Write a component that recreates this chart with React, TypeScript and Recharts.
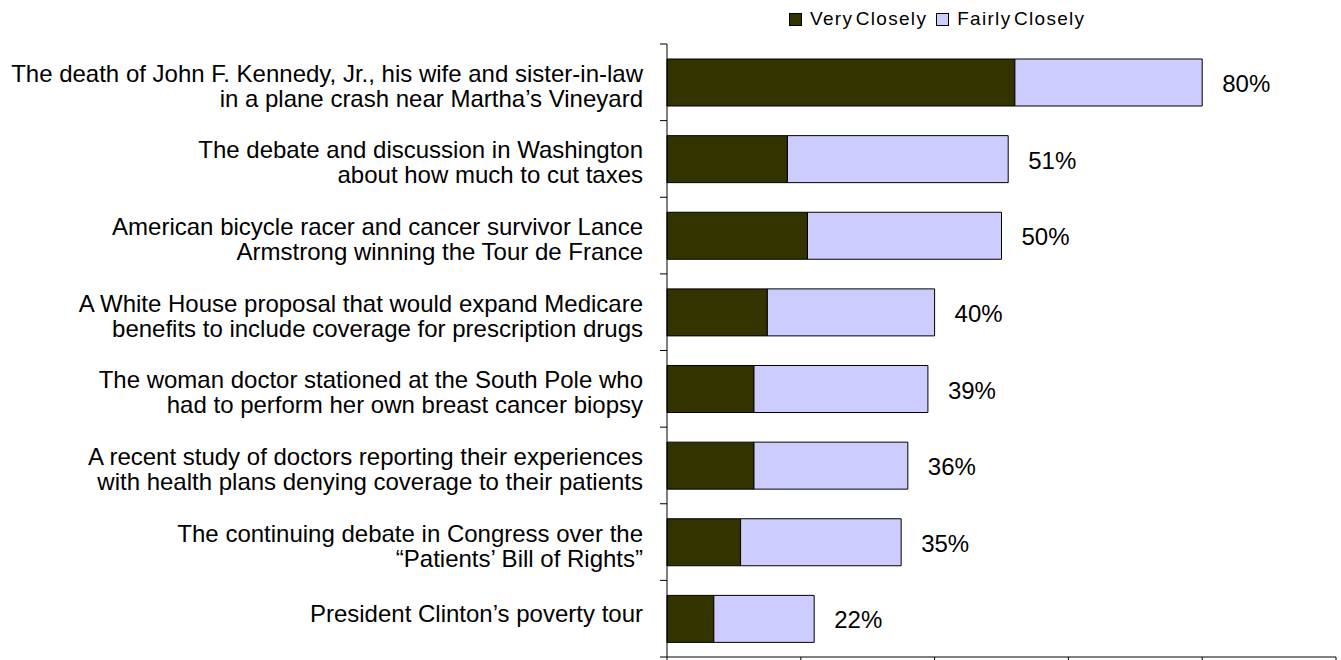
import React from 'react';
import { BarChart, Bar, XAxis, YAxis, LabelList } from 'recharts';

// Survey items, in the order they appear top to bottom
const categories = [
  'The death of John F. Kennedy, Jr., his wife and sister-in-law\nin a plane crash near Martha’s Vineyard',
  'The debate and discussion in Washington\nabout how much to cut taxes',
  'American bicycle racer and cancer survivor Lance\nArmstrong winning the Tour de France',
  'A White House proposal that would expand Medicare\nbenefits to include coverage for prescription drugs',
  'The woman doctor stationed at the South Pole who\nhad to perform her own breast cancer biopsy',
  'A recent study of doctors reporting their experiences\nwith health plans denying coverage to their patients',
  'The continuing debate in Congress over the\n“Patients’ Bill of Rights”',
  'President Clinton’s poverty tour',
];
const veryClosely = [52, 18, 21, 15, 13, 13, 11, 7];
const fairlyClosely = [28, 33, 29, 25, 26, 23, 24, 15];
const xTicks = [0, 20, 40, 60, 80, 100];

const DARK = '#333300';
const LIGHT = '#ccccff';
const FONT = '"Liberation Sans", Arial, sans-serif';
const W = 1341;
const H = 660;
const MARGIN = { top: 44, right: 5, bottom: 0, left: 0 };
const X_AXIS_H = 3;
const LABEL_GAP = 24;
const LINE_H = 25;

const data = categories.map((name, i) => ({
  name,
  very: veryClosely[i],
  fairly: fairlyClosely[i],
  total: veryClosely[i] + fairlyClosely[i],
}));

// two-line right aligned label + tick marks on the band edges
function CategoryTick(props: any) {
  const { x, y, payload, index } = props;
  const lines = String(payload.value).split('\n');
  const plotH = H - MARGIN.top - MARGIN.bottom - X_AXIS_H;
  const half = Number.isFinite(payload.offset) && payload.offset > 0 ? payload.offset : plotH / categories.length / 2;
  const cy = Number(y);
  const axisX = Number(x) + LABEL_GAP;
  const startY = cy - ((lines.length - 1) * LINE_H) / 2 + (lines.length > 1 ? 3 : -6);
  return (
    <g>
      <line x1={axisX - 7} x2={axisX} y1={cy - half} y2={cy - half} stroke="#000" strokeWidth={1} />
      {index === categories.length - 1 && (
        <line x1={axisX - 7} x2={axisX} y1={cy + half} y2={cy + half} stroke="#000" strokeWidth={1} />
      )}
      <text
        x={x}
        y={startY}
        textAnchor="end"
        dominantBaseline="central"
        fontSize={24}
        fontFamily={FONT}
        fill="#000"
      >
        {lines.map((l, i) => (
          <tspan key={i} x={x} dy={i === 0 ? 0 : LINE_H}>
            {l}
          </tspan>
        ))}
      </text>
    </g>
  );
}

const NoTick = () => <g />;

const renderTotal = (props: any) => {
  const { x, y, width, height, value } = props;
  return (
    <text
      x={Number(x) + Number(width) + 20}
      y={Number(y) + Number(height) / 2 + 1}
      dominantBaseline="central"
      fontSize={24}
      fontFamily={FONT}
      fill="#000"
    >
      {value}%
    </text>
  );
};

const LegendItem = ({ color, label }: { color: string; label: string }) => (
  <span style={{ display: 'inline-flex', alignItems: 'center', marginRight: 9 }}>
    <span
      style={{
        display: 'inline-block',
        width: 11,
        height: 11,
        background: color,
        border: '1px solid #000',
        marginRight: 8,
      }}
    />
    <span style={{ letterSpacing: 1.3, wordSpacing: -4 }}>{label}</span>
  </span>
);

export default function App() {
  return (
    <div style={{ position: 'absolute', left: 0, top: 0, width: W, height: H }}>
      <div
        style={{
          position: 'absolute',
          left: 789,
          top: 8,
          fontFamily: FONT,
          fontSize: 19,
          color: '#000',
          display: 'flex',
          whiteSpace: 'nowrap',
        }}
      >
        <LegendItem color={DARK} label="Very Closely" />
        <LegendItem color={LIGHT} label="Fairly Closely" />
      </div>
      <BarChart width={W} height={H} data={data} layout="vertical" margin={MARGIN} barSize={47}>
        <XAxis
          type="number"
          domain={[0, 100]}
          ticks={xTicks}
          tick={<NoTick />}
          tickSize={6}
          height={X_AXIS_H}
          axisLine={{ stroke: '#000' }}
          tickLine={{ stroke: '#000' }}
        />
        <YAxis
          type="category"
          dataKey="name"
          width={667}
          interval={0}
          tickSize={0}
          tickMargin={LABEL_GAP}
          tickLine={false}
          axisLine={{ stroke: '#000' }}
          tick={<CategoryTick />}
        />
        <Bar dataKey="very" stackId="a" fill={DARK} stroke="#000" strokeWidth={1} isAnimationActive={false} />
        <Bar dataKey="fairly" stackId="a" fill={LIGHT} stroke="#000" strokeWidth={1} isAnimationActive={false}>
          <LabelList dataKey="total" content={renderTotal} />
        </Bar>
      </BarChart>
    </div>
  );
}
